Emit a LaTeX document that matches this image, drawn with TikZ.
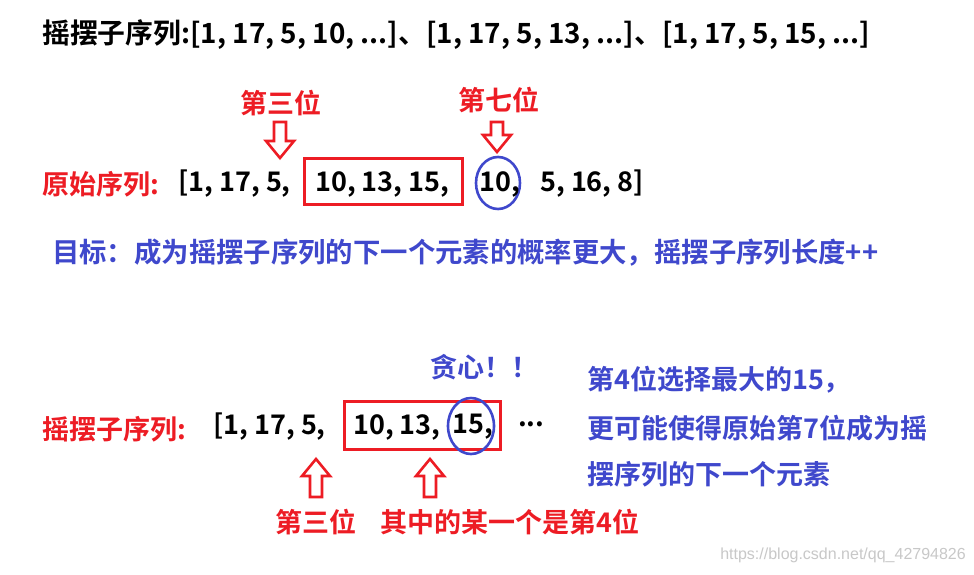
\documentclass[tikz,border=0pt]{standalone}
\usepackage{fontspec}
\setmainfont{Noto Sans CJK SC Bold}
\definecolor{myred}{HTML}{ED1C24}
\definecolor{myblue}{HTML}{3F48CC}
\definecolor{wm}{HTML}{C8C8C8}
\tikzset{
  txt/.style={anchor=west,inner sep=0pt,font=\fontsize{27}{30}\selectfont},
  rtxt/.style={txt,text=myred},
  btxt/.style={txt,text=myblue},
  hollow/.style={draw=myred,line width=2.6pt,line join=miter,fill=white},
  redbox/.style={draw=myred,line width=3pt},
  bluering/.style={draw=myblue,line width=2.6pt}
}
\newcommand\darr[3]{% cx, ytop, ybottom
  \draw[hollow] ({#1-6},#2) -- ({#1+6},#2) -- ({#1+6},{#3-17}) -- ({#1+14},{#3-17}) -- (#1,#3) -- ({#1-14},{#3-17}) -- ({#1-6},{#3-17}) -- cycle;}
\newcommand\uarr[3]{% cx, ytop, ybottom
  \draw[hollow] ({#1-6},#3) -- ({#1+6},#3) -- ({#1+6},{#2+17}) -- ({#1+14},{#2+17}) -- (#1,#2) -- ({#1-14},{#2+17}) -- ({#1-6},{#2+17}) -- cycle;}
\begin{document}
\begin{tikzpicture}[x=1pt,y=-1pt]
\useasboundingbox[fill=white] (0,0) rectangle (974,575);
% top line
\node[txt] (top) at (42,35) {\resizebox{828pt}{!}{摇摆子序列:[1, 17, 5, 10, ...]、[1, 17, 5, 13, ...]、[1, 17, 5, 15, ...]}};
% original sequence
\node[rtxt] (l3a) at (240,103) {第三位};
\node[rtxt] (l7) at (458,100) {第七位};
\darr{280}{122}{158}
\darr{497}{122}{152}
\node[rtxt] (orig) at (42,184) {原始序列:};
\node[txt] (oa) at (178,184) {[1, 17, 5,};
\draw[redbox] (304,158) rectangle (462,204);
\node[txt] (ob) at (315,184) {10, 13, 15,};
\draw[bluering] (498,183) ellipse [x radius=22, y radius=26];
\node[txt] (oc) at (479,184) {10,};
\node[txt] (od) at (540,184) {5, 16, 8]};
% goal
\node[btxt] (goal) at (52,253) {\resizebox{826pt}{!}{目标：成为摇摆子序列的下一个元素的概率更大，摇摆子序列长度++}};
% greedy
\node[btxt] (greedy) at (430,367) {贪心！！};
\node[rtxt] (wig) at (42,429) {摇摆子序列:};
\node[txt] (wa) at (213,427) {[1, 17, 5,};
\draw[redbox] (344,401) rectangle (500,449);
\node[txt] (wb) at (353,427) {10, 13,};
\draw[bluering] (471,426) ellipse [x radius=23, y radius=28];
\node[txt] (wc) at (452,427) {15,};
\node[txt] (wd) at (518,424) {...};
\node[btxt] (r1) at (587,380) {第4位选择最大的15，};
\node[btxt] (r2) at (587,428) {更可能使得原始第7位成为摇};
\node[btxt] (r3) at (587,474) {摆序列的下一个元素};
\uarr{316}{459}{497}
\uarr{430}{459}{497}
\node[rtxt] (b3) at (275,522) {第三位};
\node[rtxt] (b4) at (380,522) {其中的某一个是第4位};
\node[anchor=east,inner sep=0pt,text=wm,font=\fontspec{Liberation Sans}\fontsize{16}{17}\selectfont] (w) at (966,555) {https://blog.csdn.net/qq\_42794826};
\end{tikzpicture}
\end{document}
